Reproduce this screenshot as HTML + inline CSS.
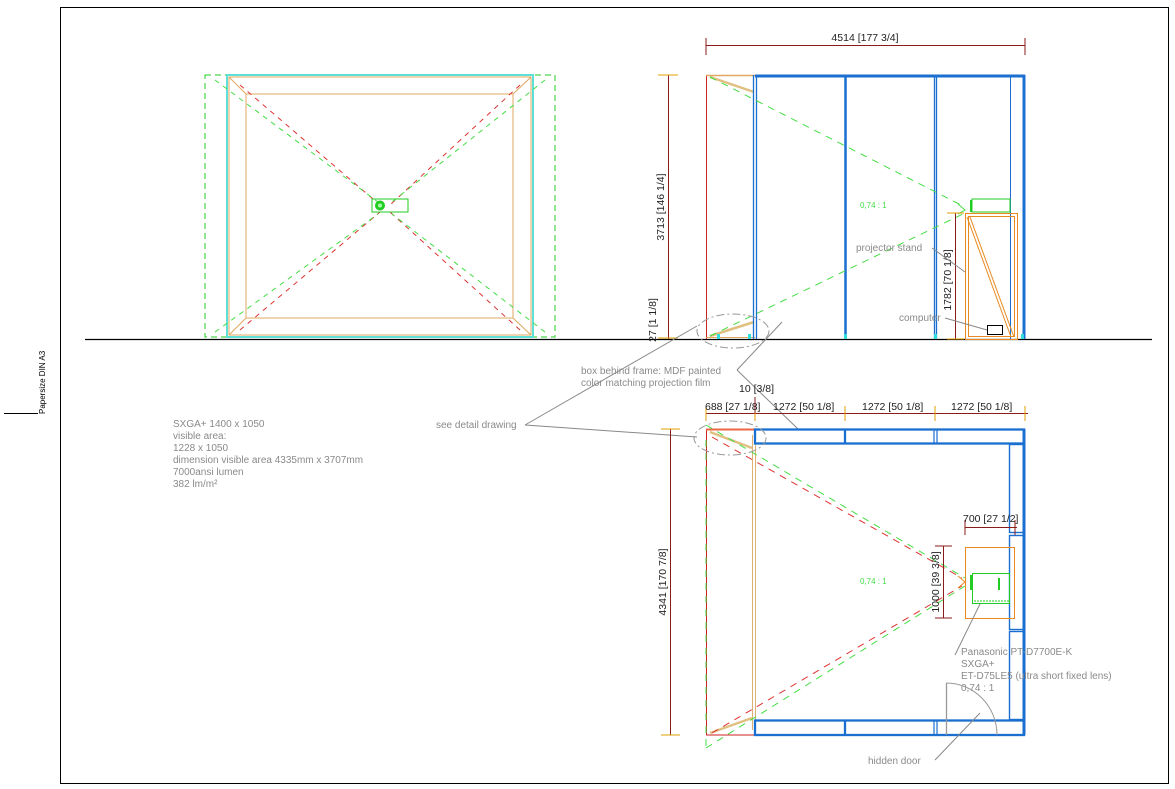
<!DOCTYPE html>
<html><head><meta charset="utf-8"><style>
html,body{margin:0;padding:0;background:#fff}
svg{display:block}
text{font-family:"Liberation Sans",sans-serif}
.g{fill:#8a8a8a;font-size:10px}
.d{fill:#222;font-size:10.5px}
</style></head><body>
<svg width="1175" height="789" viewBox="0 0 1175 789" xmlns="http://www.w3.org/2000/svg">
<rect x="60.5" y="7.5" width="1108" height="776" fill="none" stroke="#000" stroke-width="1"/>
<line x1="4" y1="413.5" x2="38" y2="413.5" stroke="#000"/>
<text transform="translate(45,414) rotate(-90)" style="font-size:8px" fill="#000">Papersize DIN A3</text>
<line x1="85" y1="339.5" x2="1152" y2="339.5" stroke="#000" stroke-width="1.2"/>

<!-- Top-left view -->
<rect x="205" y="75" width="350" height="262" fill="none" stroke="#22cc22" stroke-dasharray="6,4"/>
<rect x="227" y="75" width="306" height="262" fill="none" stroke="#5ee0d8" stroke-width="2"/>
<rect x="229" y="77" width="302" height="258" fill="none" stroke="#e0a860" stroke-width="1"/>
<rect x="246" y="94" width="267" height="224" fill="none" stroke="#e0a860"/>
<g stroke="#e0a860"><line x1="229" y1="77" x2="246" y2="94"/><line x1="531" y1="77" x2="513" y2="94"/><line x1="229" y1="335" x2="246" y2="318"/><line x1="531" y1="335" x2="513" y2="318"/></g>
<g stroke="#dd3333" stroke-dasharray="5,5"><line x1="240" y1="85" x2="380" y2="205"/><line x1="520" y1="85" x2="390" y2="205"/><line x1="240" y1="330" x2="380" y2="212"/><line x1="520" y1="330" x2="390" y2="212"/></g>
<g stroke="#44dd44" stroke-dasharray="5,5"><line x1="215" y1="80" x2="378" y2="202"/><line x1="545" y1="80" x2="392" y2="202"/><line x1="215" y1="332" x2="378" y2="214"/><line x1="545" y1="332" x2="392" y2="214"/></g>
<rect x="372" y="199" width="36" height="13" fill="none" stroke="#22cc22"/>
<circle cx="380" cy="205.5" r="5" fill="#22cc22"/><circle cx="380" cy="205.5" r="2" fill="#aaffaa"/>

<!-- Top-right elevation -->
<line x1="706" y1="45.5" x2="1025" y2="45.5" stroke="#8b1a1a"/>
<g stroke="#8b1a1a"><line x1="706" y1="38" x2="706" y2="55"/><line x1="1025" y1="38" x2="1025" y2="55"/></g>
<text x="865" y="41" text-anchor="middle" class="d">4514 [177 3/4]</text>
<line x1="668.5" y1="75" x2="668.5" y2="339" stroke="#8b1a1a"/>
<g stroke="#e0a000"><line x1="658" y1="75" x2="678" y2="75"/><line x1="658" y1="338" x2="678" y2="338"/></g>
<text transform="translate(664,207) rotate(-90)" text-anchor="middle" class="d">3713 [146 1/4]</text>
<text transform="translate(656,320) rotate(-90)" text-anchor="middle" class="d">27 [1 1/8]</text>
<line x1="706.5" y1="75" x2="706.5" y2="339" stroke="#cc2222"/>
<line x1="706" y1="75.5" x2="755" y2="75.5" stroke="#e0a860" stroke-width="1.5"/>
<line x1="710" y1="77" x2="754" y2="92" stroke="#e0c080" stroke-width="2.5"/>
<line x1="710" y1="336" x2="754" y2="322" stroke="#e0c080" stroke-width="2.5"/>
<line x1="706" y1="337.5" x2="755" y2="337.5" stroke="#e0a860"/>
<g stroke="#1a6fd0" fill="none">
<line x1="753.5" y1="75" x2="753.5" y2="339" stroke-width="1.3"/><line x1="756.5" y1="75" x2="756.5" y2="339" stroke-width="1.3"/>
<line x1="845.5" y1="75" x2="845.5" y2="339" stroke-width="2.5"/>
<line x1="934.5" y1="75" x2="934.5" y2="339" stroke-width="1.3"/><line x1="936.5" y1="75" x2="936.5" y2="339" stroke-width="1.3"/>
<line x1="1010.5" y1="75" x2="1010.5" y2="339"/>
<line x1="1024" y1="75" x2="1024" y2="339" stroke-width="3"/>
<line x1="755" y1="76" x2="1025" y2="76" stroke-width="3"/>
</g>
<g fill="#33dddd"><rect x="717" y="334" width="3" height="5"/><rect x="748" y="334" width="3" height="5"/><rect x="844" y="334" width="3" height="5"/><rect x="934" y="334" width="3" height="5"/><rect x="1021" y="334" width="3" height="5"/></g>
<g stroke="#44dd44" stroke-dasharray="7,6"><line x1="710" y1="77" x2="965" y2="207"/><line x1="710" y1="336" x2="965" y2="213"/></g>
<path d="M958,204 L965,210 L958,214" fill="none" stroke="#44dd44"/>
<rect x="972" y="199" width="38" height="13" fill="none" stroke="#22cc22"/>
<line x1="971" y1="200" x2="971" y2="212" stroke="#22cc22" stroke-width="2"/>
<text x="860" y="208" style="font-size:8px" fill="#44dd44">0,74 : 1</text>
<g stroke="#e88a20" fill="none">
<rect x="965.5" y="213.5" width="52" height="126"/>
<rect x="968.5" y="216.5" width="46" height="120"/>
<line x1="967" y1="217" x2="1011" y2="337"/><line x1="970" y1="217" x2="1014" y2="337"/>
</g>
<line x1="955.5" y1="213" x2="955.5" y2="339" stroke="#8b1a1a"/>
<g stroke="#e0a000"><line x1="947" y1="213" x2="964" y2="213"/><line x1="947" y1="339" x2="964" y2="339"/></g>
<text transform="translate(951,280) rotate(-90)" text-anchor="middle" class="d">1782 [70 1/8]</text>
<text x="856" y="251" class="g">projector stand</text>
<line x1="932" y1="248" x2="965" y2="272" stroke="#888"/>
<text x="899" y="321" class="g">computer</text>
<line x1="945" y1="318" x2="987" y2="330" stroke="#888"/>
<rect x="987.5" y="325.5" width="15" height="9" fill="none" stroke="#000"/>
<ellipse cx="733" cy="331" rx="36" ry="17" fill="none" stroke="#999" stroke-dasharray="8,3,2,3"/>

<!-- Leaders -->
<g stroke="#888"><line x1="525" y1="425" x2="697" y2="326"/><line x1="525" y1="425" x2="697" y2="437"/>
<line x1="737" y1="370" x2="782" y2="322"/><line x1="737" y1="370" x2="798" y2="429"/></g>
<text x="581" y="374" class="g">box behind frame: MDF painted</text>
<text x="581" y="386" class="g">color matching projection film</text>
<text x="436" y="428" class="g">see detail drawing</text>

<!-- Left text -->
<g class="g"><text x="173" y="427">SXGA+ 1400 x 1050</text><text x="173" y="439">visible area:</text><text x="173" y="451">1228 x 1050</text><text x="173" y="463">dimension visible area 4335mm x 3707mm</text><text x="173" y="475">7000ansi lumen</text><text x="173" y="487">382 lm/m²</text></g>

<!-- Bottom plan -->
<line x1="706" y1="413.5" x2="1028" y2="413.5" stroke="#8b1a1a"/>
<g stroke="#e0a000"><line x1="706" y1="406" x2="706" y2="421"/><line x1="755" y1="397" x2="755" y2="421"/><line x1="845" y1="406" x2="845" y2="421"/><line x1="935" y1="406" x2="935" y2="421"/><line x1="1025" y1="406" x2="1025" y2="421"/></g>
<line x1="755" y1="397" x2="755" y2="413" stroke="#8b1a1a"/>
<text x="705" y="410" class="d">688 [27 1/8]</text>
<text x="773" y="410" class="d">1272 [50 1/8]</text>
<text x="862" y="410" class="d">1272 [50 1/8]</text>
<text x="951" y="410" class="d">1272 [50 1/8]</text>
<text x="739" y="392" class="d">10 [3/8]</text>
<line x1="670.5" y1="429" x2="670.5" y2="735" stroke="#8b1a1a"/>
<g stroke="#e0a000"><line x1="661" y1="429" x2="680" y2="429"/><line x1="661" y1="735" x2="680" y2="735"/></g>
<text transform="translate(666,582) rotate(-90)" text-anchor="middle" class="d">4341 [170 7/8]</text>
<line x1="706.5" y1="429" x2="706.5" y2="735" stroke="#cc2222"/>
<line x1="706" y1="429.5" x2="755" y2="429.5" stroke="#ee6644" stroke-width="2"/>
<line x1="706" y1="735" x2="755" y2="735" stroke="#cc2222"/>
<line x1="752.5" y1="435" x2="752.5" y2="730" stroke="#e0b070"/><line x1="755.5" y1="430" x2="755.5" y2="735" stroke="#e0b070"/>
<line x1="710" y1="432" x2="752" y2="448" stroke="#e0c080" stroke-width="2.5"/>
<line x1="710" y1="733" x2="752" y2="718" stroke="#e0c080" stroke-width="2.5"/>
<g stroke="#1a6fd0" fill="none" stroke-width="2.3">
<rect x="755" y="429.5" width="269" height="14"/>
<line x1="845" y1="430" x2="845" y2="443"/><line x1="934" y1="430" x2="934" y2="443" stroke-width="1.2"/><line x1="937" y1="430" x2="937" y2="443" stroke-width="1.2"/>
<rect x="755" y="720.5" width="269" height="14.5"/>
<line x1="845" y1="721" x2="845" y2="735"/><line x1="934" y1="721" x2="934" y2="735" stroke-width="1.2"/><line x1="937" y1="721" x2="937" y2="735" stroke-width="1.2"/>
<line x1="1024" y1="429" x2="1024" y2="735" stroke-width="3"/>
<rect x="1009.5" y="444.5" width="14.5" height="88" stroke-width="1.4"/>
<rect x="1009.5" y="535.5" width="14.5" height="94" stroke-width="1.4"/>
<rect x="1009.5" y="631.5" width="14.5" height="88" stroke-width="1.4"/>
</g>
<g stroke="#44dd44" stroke-dasharray="7,6"><line x1="706" y1="425" x2="965" y2="578"/><line x1="706" y1="748" x2="965" y2="586"/><line x1="706" y1="440" x2="706" y2="748"/></g>
<g stroke="#dd3333" stroke-dasharray="7,6"><line x1="712" y1="437" x2="962" y2="578"/><line x1="712" y1="733" x2="962" y2="586"/></g>
<path d="M958,576 L965,582 L958,588" fill="none" stroke="#e88a20"/>
<text x="860" y="584" style="font-size:8px" fill="#44dd44">0,74 : 1</text>
<rect x="965.5" y="547.5" width="49" height="71" fill="none" stroke="#e88a20"/>
<rect x="972.5" y="573.5" width="37" height="30" fill="none" stroke="#22cc22"/>
<line x1="971" y1="575" x2="971" y2="590" stroke="#22cc22" stroke-width="2"/>
<line x1="999" y1="578" x2="999" y2="590" stroke="#22cc22" stroke-width="2"/>
<line x1="974" y1="601" x2="1009" y2="601" stroke="#22cc22" stroke-dasharray="2,1"/>
<line x1="943.5" y1="546" x2="943.5" y2="618" stroke="#8b1a1a"/>
<g stroke="#8b1a1a"><line x1="935" y1="546" x2="952" y2="546"/><line x1="935" y1="618" x2="952" y2="618"/></g>
<text transform="translate(939,582) rotate(-90)" text-anchor="middle" class="d">1000 [39 3/8]</text>
<line x1="965" y1="527.5" x2="1017" y2="527.5" stroke="#8b1a1a"/>
<g stroke="#8b1a1a"><line x1="965" y1="520" x2="965" y2="535"/><line x1="1015" y1="520" x2="1015" y2="535"/></g>
<text x="963" y="522" class="d">700 [27 1/2]</text>
<line x1="955" y1="655" x2="980" y2="604" stroke="#888"/>
<g class="g"><text x="961" y="655">Panasonic PT-D7700E-K</text><text x="961" y="667">SXGA+</text><text x="961" y="679">ET-D75LE5 (ultra short fixed lens)</text><text x="961" y="691">0,74 : 1</text></g>
<line x1="946.5" y1="683" x2="946.5" y2="735" stroke="#999" stroke-width="1.3"/>
<path d="M946,683 A51,52 0 0 1 997,735" fill="none" stroke="#999"/>
<line x1="935" y1="760" x2="980" y2="713" stroke="#888"/>
<text x="868" y="764" class="g">hidden door</text>
<ellipse cx="730" cy="438" rx="36" ry="17" fill="none" stroke="#999" stroke-dasharray="8,3,2,3"/>
</svg>
</body></html>
